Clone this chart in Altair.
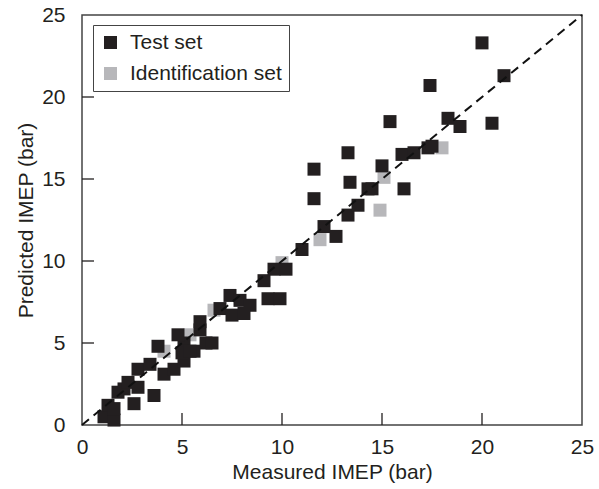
import altair as alt
import pandas as pd

# Test set (black squares)
test_x = [1.1, 1.6, 1.3, 1.6, 2.6, 1.8, 2.1, 2.3, 2.8, 2.8, 3.4, 3.6, 4.1, 4.6, 5.1,
          3.8, 5.1, 5.6, 4.8, 5.0, 5.4, 6.2, 6.5, 5.9, 5.9, 6.9, 7.4, 7.9, 8.4, 7.5,
          8.1, 9.1, 9.3, 9.9, 9.6, 10.2, 11.0, 12.1, 12.7, 11.6, 11.6, 13.3, 13.8,
          13.4, 14.3, 14.5, 13.3, 15.0, 16.1, 15.4, 16.0, 16.6, 17.3, 17.5, 17.4,
          18.3, 18.9, 20.5, 20.0, 21.1]
test_y = [0.5, 0.3, 1.2, 1.0, 1.3, 2.0, 2.2, 2.6, 2.3, 3.4, 3.7, 1.8, 3.1, 3.4, 3.9,
          4.8, 5.0, 4.5, 5.5, 4.4, 4.5, 5.0, 5.0, 5.8, 6.3, 7.1, 7.9, 7.6, 7.3, 6.7,
          6.8, 8.8, 7.7, 7.7, 9.5, 9.5, 10.7, 12.1, 11.5, 13.8, 15.6, 12.8, 13.4,
          14.8, 14.4, 14.4, 16.6, 15.8, 14.4, 18.5, 16.5, 16.6, 16.9, 17.0, 20.7,
          18.7, 18.2, 18.4, 23.3, 21.3]

# Identification set (grey squares)
ident_x = [4.1, 5.4, 6.6, 10.0, 11.9, 14.9, 15.1, 18.0]
ident_y = [4.5, 5.5, 7.0, 9.9, 11.3, 13.1, 15.1, 16.9]

diag = [0, 25]
tick_vals = [0, 5, 10, 15, 20, 25]
inner_ticks = [5, 10, 15, 20]

pts = pd.DataFrame({
    "x": ident_x + test_x,
    "y": ident_y + test_y,
    "set": ["Identification set"] * len(ident_x) + ["Test set"] * len(test_x),
})
line_df = pd.DataFrame({"x": diag, "y": diag})
tick_df = pd.DataFrame({"v": inner_ticks})

xs = alt.Scale(domain=[0, 25], nice=False)
ys = alt.Scale(domain=[0, 25], nice=False)
FONT = "Liberation Sans"
INK = "#231f20"

x_axis = alt.Axis(values=tick_vals, ticks=False, tickSize=0, domain=False, grid=False,
                  labelFlush=False, labelOverlap=False,
                  labelFontSize=21, labelPadding=11, labelColor=INK, labelFont=FONT,
                  title="Measured IMEP (bar)", titleFontSize=21, titleFontWeight="normal",
                  titleFont=FONT, titleColor=INK, titlePadding=4)
y_axis = alt.Axis(values=tick_vals, ticks=False, tickSize=0, domain=False, grid=False,
                  labelFlush=False, labelOverlap=False,
                  labelFontSize=21, labelPadding=17, labelColor=INK, labelFont=FONT,
                  title="Predicted IMEP (bar)", titleFontSize=21, titleFontWeight="normal",
                  titleFont=FONT, titleColor=INK, titlePadding=5)

points = alt.Chart(pts).mark_point(shape="square", filled=True, size=169, opacity=1).encode(
    x=alt.X("x:Q", scale=xs, axis=x_axis),
    y=alt.Y("y:Q", scale=ys, axis=y_axis),
    color=alt.Color("set:N",
                    scale=alt.Scale(domain=["Test set", "Identification set"],
                                    range=[INK, "#b7b7ba"]),
                    legend=alt.Legend(title=None, orient="none", legendX=11, legendY=10,
                                      symbolType="square", symbolSize=169,
                                      symbolStrokeWidth=0, labelFontSize=21, labelFont=FONT,
                                      labelColor=INK, rowPadding=9, padding=7,
                                      symbolOffset=0,
                                      strokeColor="#444444", fillColor="white",
                                      labelOffset=9)),
)

line = alt.Chart(line_df).mark_line(color="#111111", strokeWidth=2, strokeDash=[9, 6]).encode(
    x=alt.X("x:Q", scale=xs), y=alt.Y("y:Q", scale=ys))

xticks = alt.Chart(tick_df).mark_rule(color=INK, strokeWidth=1.3).encode(
    x=alt.X("v:Q", scale=xs), y=alt.value(410), y2=alt.value(398))
yticks = alt.Chart(tick_df).mark_rule(color=INK, strokeWidth=1.3).encode(
    y=alt.Y("v:Q", scale=ys), x=alt.value(0), x2=alt.value(12))

chart = alt.layer(points, line, xticks, yticks).properties(
    width=500, height=410,
    autosize=alt.AutoSizeParams(type="none"),
    padding={"left": 82, "top": 15, "right": 17, "bottom": 64},
).configure_view(stroke="#444444", strokeWidth=1.5)

chart.save("out.html", embed_options={"renderer": "svg", "actions": False})
